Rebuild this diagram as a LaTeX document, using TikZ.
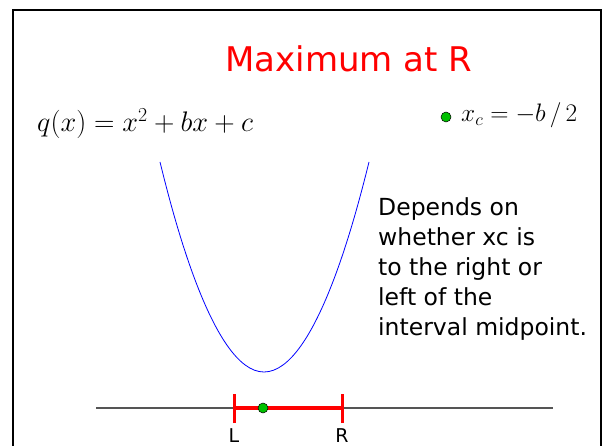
\RequirePackage{fix-cm}
\documentclass[tikz,border=0pt]{standalone}
\usepackage{fontspec}
\setmainfont{DejaVu Sans}
\usepackage{amsmath}
\usepackage{xcolor}
\definecolor{curveblue}{HTML}{0000FF}
\definecolor{dotgreen}{HTML}{00C000}
\definecolor{axisgray}{HTML}{555555}

\begin{document}
\begin{tikzpicture}[
  x=1pt, y=-1pt,
  frame/.style={draw=black, line width=2.8pt},
  title/.style={inner sep=0pt, text=red, font=\fontsize{34}{40}\selectfont},
  formula/.style={inner sep=0pt, font=\fontsize{28.3}{32}\selectfont},
  note/.style={inner sep=0pt, align=left, font=\fontsize{23.5}{30.2}\selectfont},
  endlabel/.style={inner sep=0pt, font=\fontsize{19}{22}\selectfont},
  centre/.style={circle, draw=black, line width=0.5pt, fill=dotgreen,
                 inner sep=0pt, minimum size=10pt},
  interval/.style={draw=red, line width=3.5pt},
  tick/.style={draw=red, line width=3pt},
]
  \useasboundingbox (0,0) rectangle (602,446);
  \draw[frame] (13,470) -- (13,10) -- (601,10) -- (601,470);

  \node[title, anchor=base] (ttl) at (349,72) {Maximum at R};
  \node[formula, anchor=base west] (qdef) at (37,132)
    {$q(x) = x^{2} + bx + c$};
  \node[centre] (dotkey) at (446,117) {};
  \node[formula, anchor=base west, font=\fontsize{25.3}{30}\selectfont]
    (xcdef) at (461,122) {$x_{c} = -b\,/\,2$};

  \node[note, anchor=north west] (remark) at (378,197)
    {Depends on\\whether xc is\\to the right or\\left of the\\interval midpoint.};

  \draw[curveblue, line width=0.8pt] (160,162) parabola bend (264,372) (369,162);

  \coordinate (axL) at (96,408);
  \coordinate (axR) at (553,408);
  \coordinate (L) at (234,408);
  \coordinate (R) at (342,408);
  \draw[axisgray, line width=1.4pt] (axL) -- (axR);
  \draw[interval] (L) -- (R);
  \draw[tick] ([yshift=-15pt]L) -- ([yshift=14pt]L);
  \draw[tick] ([yshift=-15pt]R) -- ([yshift=14pt]R);
  \node[centre] (xc) at (263,408) {};

  \node[endlabel, anchor=north] (labL) at (234,428) {L};
  \node[endlabel, anchor=north] (labR) at (342,428) {R};
\end{tikzpicture}
\end{document}
